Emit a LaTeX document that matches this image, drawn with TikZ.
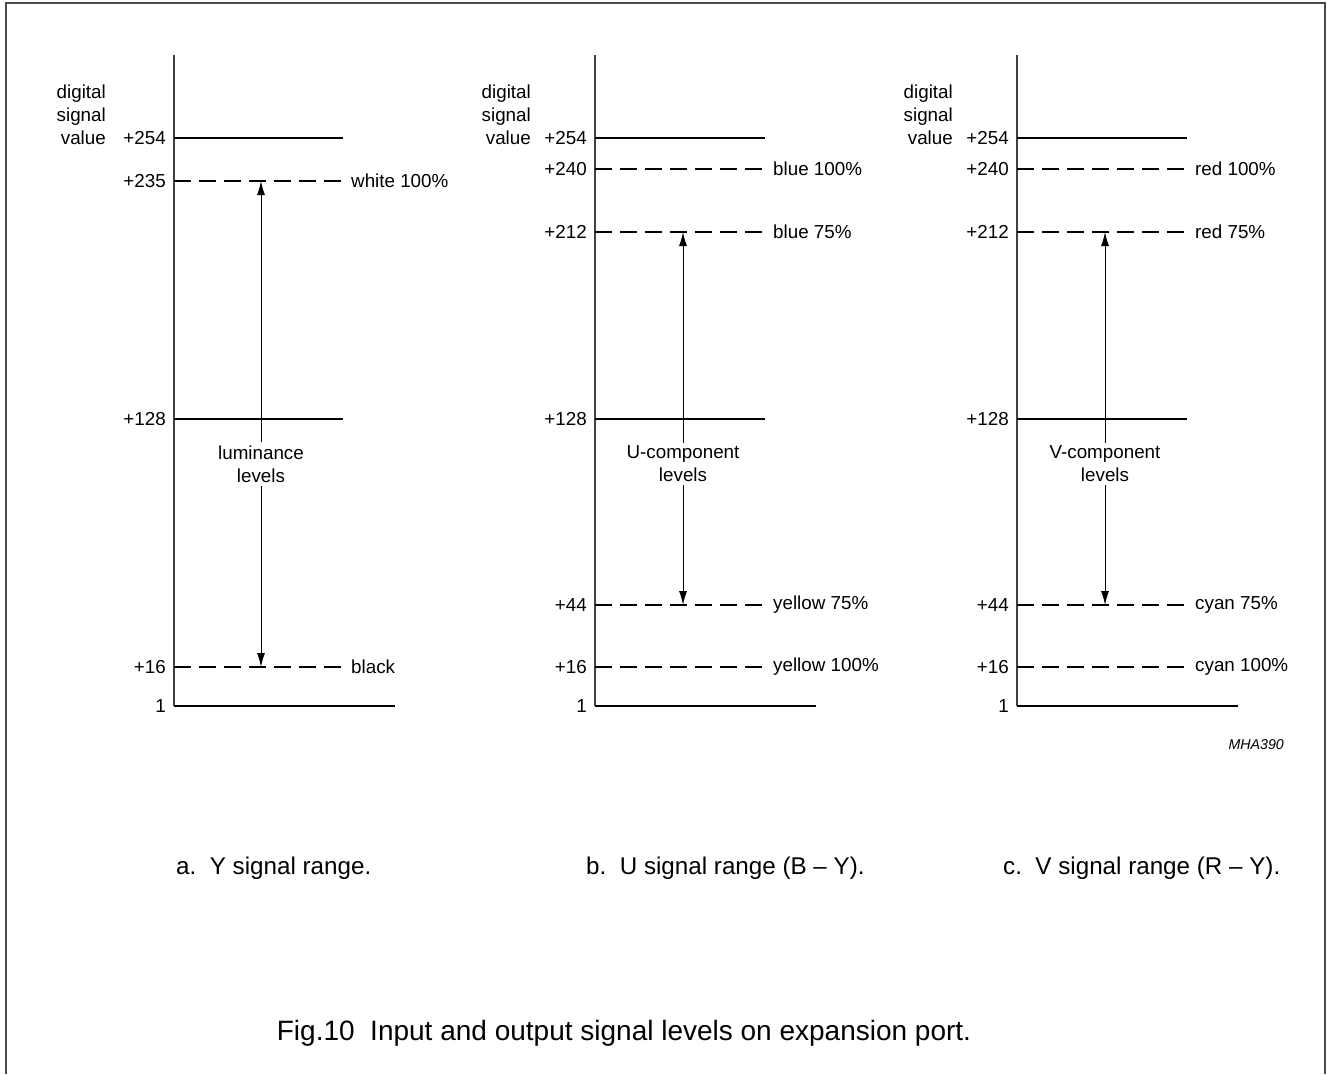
\documentclass[tikz,border=0pt]{standalone}
\usepackage{fontspec}
\setmainfont{Liberation Sans}
\usetikzlibrary{arrows.meta}
\begin{document}
\begin{tikzpicture}[x=1pt,y=-1pt,
  lbl/.style={font=\fontsize{18.8}{23}\selectfont, inner sep=0pt},
  axisline/.style={line width=1.4pt, draw=black!75},
  solidlvl/.style={line width=1.1pt},
  dashlvl/.style={line width=1.1pt, dash pattern=on 17pt off 8pt},
  rng/.style={line width=1pt, -{Latex[length=14pt,width=8pt]}},
  captxt/.style={font=\fontsize{24.2}{28}\selectfont, inner sep=0pt},
  figtxt/.style={font=\fontsize{28}{32}\selectfont, inner sep=0pt},
  framestyle/.style={line width=1.6pt, draw=black!70}]
\useasboundingbox (0,0) rectangle (1327,1074);
% frame (open at the bottom)
\coordinate (fbl) at (6,1074);
\coordinate (ftl) at (6,3);
\coordinate (ftr) at (1325,3);
\coordinate (fbr) at (1325,1074);
\draw[framestyle] (fbl) -- (ftl) -- (ftr) -- (fbr);

% ================= panel a =================
\coordinate (aT) at (174,55);
\coordinate (aB) at (174,706);
\coordinate (aBR) at (395,706);
\draw[axisline] (aT) -- (aB);
\draw[solidlvl] (aB) -- (aBR);
\coordinate (a254) at (174,138); \coordinate (a254r) at (343,138);
\coordinate (a235) at (174,181); \coordinate (a235r) at (343,181);
\coordinate (a128) at (174,419); \coordinate (a128r) at (343,419);
\coordinate (a16) at (174,667);  \coordinate (a16r) at (343,667);
\draw[solidlvl] (a254) -- (a254r);
\draw[solidlvl] (a128) -- (a128r);
\draw[dashlvl] (a235) -- (a235r);
\draw[dashlvl] (a16) -- (a16r);
\node[lbl, align=right, anchor=east] (adsv) at (106,115) {digital\\signal\\value};
\node[lbl, anchor=east] (al254) at (166,138) {+254};
\node[lbl, anchor=east] (al235) at (166,181) {+235};
\node[lbl, anchor=east] (al128) at (166,419) {+128};
\node[lbl, anchor=east] (al16) at (166,667) {+16};
\node[lbl, anchor=east] (al1) at (166,706) {1};
\node[lbl, anchor=west] (awhite) at (351,181) {white 100\%};
\node[lbl, anchor=west] (ablack) at (351,667) {black};
\node[lbl, align=center, inner sep=3pt] (alum) at (261,464) {luminance\\levels};
\coordinate (aup) at (261,181);
\coordinate (adn) at (261,667);
\draw[rng] (alum.north) -- (aup);
\draw[rng] (alum.south) -- (adn);

% ================= panel b =================
\coordinate (bT) at (595,55);
\coordinate (bB) at (595,706);
\coordinate (bBR) at (816,706);
\draw[axisline] (bT) -- (bB);
\draw[solidlvl] (bB) -- (bBR);
\coordinate (b254) at (595,138); \coordinate (b254r) at (765,138);
\coordinate (b240) at (595,169); \coordinate (b240r) at (765,169);
\coordinate (b212) at (595,232); \coordinate (b212r) at (765,232);
\coordinate (b128) at (595,419); \coordinate (b128r) at (765,419);
\coordinate (b44) at (595,605);  \coordinate (b44r) at (765,605);
\coordinate (b16) at (595,667);  \coordinate (b16r) at (765,667);
\draw[solidlvl] (b254) -- (b254r);
\draw[solidlvl] (b128) -- (b128r);
\draw[dashlvl] (b240) -- (b240r);
\draw[dashlvl] (b212) -- (b212r);
\draw[dashlvl] (b44) -- (b44r);
\draw[dashlvl] (b16) -- (b16r);
\node[lbl, align=right, anchor=east] (bdsv) at (531,115) {digital\\signal\\value};
\node[lbl, anchor=east] (bl254) at (587,138) {+254};
\node[lbl, anchor=east] (bl240) at (587,169) {+240};
\node[lbl, anchor=east] (bl212) at (587,232) {+212};
\node[lbl, anchor=east] (bl128) at (587,419) {+128};
\node[lbl, anchor=east] (bl44) at (587,605) {+44};
\node[lbl, anchor=east] (bl16) at (587,667) {+16};
\node[lbl, anchor=east] (bl1) at (587,706) {1};
\node[lbl, anchor=west] (bblue1) at (773,169) {blue 100\%};
\node[lbl, anchor=west] (bblue2) at (773,232) {blue 75\%};
\node[lbl, anchor=west] (byel1) at (773,605) {yellow 75\%};
\node[lbl, anchor=west] (byel2) at (773,667) {yellow 100\%};
\node[lbl, align=center, inner sep=3pt] (bucomp) at (683,464) {U-component\\levels};
\coordinate (bup) at (683,232);
\coordinate (bdn) at (683,605);
\draw[rng] (bucomp.north) -- (bup);
\draw[rng] (bucomp.south) -- (bdn);

% ================= panel c =================
\coordinate (cT) at (1017,55);
\coordinate (cB) at (1017,706);
\coordinate (cBR) at (1238,706);
\draw[axisline] (cT) -- (cB);
\draw[solidlvl] (cB) -- (cBR);
\coordinate (c254) at (1017,138); \coordinate (c254r) at (1187,138);
\coordinate (c240) at (1017,169); \coordinate (c240r) at (1187,169);
\coordinate (c212) at (1017,232); \coordinate (c212r) at (1187,232);
\coordinate (c128) at (1017,419); \coordinate (c128r) at (1187,419);
\coordinate (c44) at (1017,605);  \coordinate (c44r) at (1187,605);
\coordinate (c16) at (1017,667);  \coordinate (c16r) at (1187,667);
\draw[solidlvl] (c254) -- (c254r);
\draw[solidlvl] (c128) -- (c128r);
\draw[dashlvl] (c240) -- (c240r);
\draw[dashlvl] (c212) -- (c212r);
\draw[dashlvl] (c44) -- (c44r);
\draw[dashlvl] (c16) -- (c16r);
\node[lbl, align=right, anchor=east] (cdsv) at (953,115) {digital\\signal\\value};
\node[lbl, anchor=east] (cl254) at (1009,138) {+254};
\node[lbl, anchor=east] (cl240) at (1009,169) {+240};
\node[lbl, anchor=east] (cl212) at (1009,232) {+212};
\node[lbl, anchor=east] (cl128) at (1009,419) {+128};
\node[lbl, anchor=east] (cl44) at (1009,605) {+44};
\node[lbl, anchor=east] (cl16) at (1009,667) {+16};
\node[lbl, anchor=east] (cl1) at (1009,706) {1};
\node[lbl, anchor=west] (cred1) at (1195,169) {red 100\%};
\node[lbl, anchor=west] (cred2) at (1195,232) {red 75\%};
\node[lbl, anchor=west] (ccyan1) at (1195,605) {cyan 75\%};
\node[lbl, anchor=west] (ccyan2) at (1195,667) {cyan 100\%};
\node[lbl, align=center, inner sep=3pt] (cvcomp) at (1105,464) {V-component\\levels};
\coordinate (cup) at (1105,232);
\coordinate (cdn) at (1105,605);
\draw[rng] (cvcomp.north) -- (cup);
\draw[rng] (cvcomp.south) -- (cdn);

% code
\node[font=\fontsize{14.2}{17}\selectfont\itshape, inner sep=0pt, anchor=east] (code) at (1284,745) {MHA390};

% sub-captions
\node[captxt, anchor=base west] (capa) at (176,874) {a.\ \ Y signal range.};
\node[captxt, anchor=base west] (capb) at (586,874) {b.\ \ U signal range (B -- Y).};
\node[captxt, anchor=base west] (capc) at (1003,874) {c.\ \ V signal range (R -- Y).};
% caption
\node[figtxt, anchor=base] (fig) at (624,1040) {Fig.10\ \ Input and output signal levels on expansion port.};
\end{tikzpicture}
\end{document}
